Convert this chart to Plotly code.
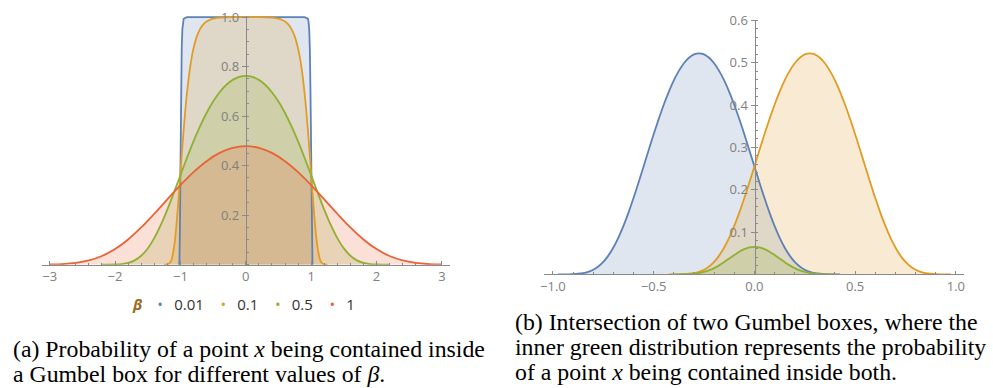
import plotly.graph_objects as go

# ---------------- data: left panel (probability of x in a Gumbel box) -------------
BETA_LABELS = ["0.01", "0.1", "0.5", "1"]

BLUE_L_X = [-1.03, -1.02, -1.015, -1.01, -1.005, -1.0, -0.995, -0.99, -0.98, -0.97, -0.96, -0.95, -0.9,
            0.0, 0.9, 0.95, 0.96, 0.97, 0.98, 0.99, 0.995, 1.0, 1.005, 1.01, 1.015, 1.02, 1.03]
BLUE_L_Y = [0.0, 0.0006, 0.0113, 0.0660, 0.1923, 0.3679, 0.5452, 0.6922, 0.8734, 0.9514, 0.9819, 0.9933, 1.0,
            1.0, 1.0, 0.9933, 0.9819, 0.9514, 0.8734, 0.6922, 0.5452, 0.3679, 0.1923, 0.0660, 0.0113, 0.0006, 0.0]

ORANGE_L_X = [-1.25, -1.2, -1.15, -1.1, -1.05, -1.0, -0.95, -0.9, -0.85, -0.8, -0.75, -0.7, -0.65, -0.6, -0.55,
              -0.5, -0.4, -0.3, -0.2, -0.1, 0.0, 0.1, 0.2, 0.3, 0.4, 0.5, 0.55, 0.6, 0.65, 0.7, 0.75, 0.8,
              0.85, 0.9, 0.95, 1.0, 1.05, 1.1, 1.15, 1.2, 1.25]
ORANGE_L_Y = [0.0, 0.0006, 0.0113, 0.0660, 0.1923, 0.3679, 0.5452, 0.6922, 0.8000, 0.8734, 0.9212, 0.9514,
              0.9703, 0.9819, 0.9890, 0.9933, 0.9975, 0.9991, 0.9997, 0.9999, 0.9999, 0.9999, 0.9997, 0.9991,
              0.9975, 0.9933, 0.9890, 0.9819, 0.9703, 0.9514, 0.9212, 0.8734, 0.8000, 0.6922, 0.5452, 0.3679,
              0.1923, 0.0660, 0.0113, 0.0006, 0.0]

GREEN_L_X = [-2.2, -2.1, -2.0, -1.9, -1.8, -1.7, -1.6, -1.5, -1.4, -1.3, -1.2, -1.1, -1.0, -0.9, -0.8, -0.7,
             -0.6, -0.5, -0.4, -0.3, -0.2, -0.1, 0.0, 0.1, 0.2, 0.3, 0.4, 0.5, 0.6, 0.7, 0.8, 0.9, 1.0, 1.1,
             1.2, 1.3, 1.4, 1.5, 1.6, 1.7, 1.8, 1.9, 2.0, 2.1, 2.2]
GREEN_L_Y = [0.0, 0.0001, 0.0006, 0.0024, 0.0070, 0.0173, 0.0359, 0.0655, 0.1071, 0.1601, 0.2222, 0.2904,
             0.3612, 0.4312, 0.4978, 0.5587, 0.6126, 0.6586, 0.6963, 0.7255, 0.7463, 0.7587, 0.7628, 0.7587,
             0.7463, 0.7255, 0.6963, 0.6586, 0.6126, 0.5587, 0.4978, 0.4312, 0.3612, 0.2904, 0.2222, 0.1601,
             0.1071, 0.0655, 0.0359, 0.0173, 0.0070, 0.0024, 0.0006, 0.0001, 0.0]

RED_L_X = [-3.0, -2.8, -2.6, -2.4, -2.2, -2.0, -1.8, -1.6, -1.4, -1.2, -1.0, -0.8, -0.6, -0.4, -0.2, 0.0,
           0.2, 0.4, 0.6, 0.8, 1.0, 1.2, 1.4, 1.6, 1.8, 2.0, 2.2, 2.4, 2.6, 2.8, 3.0]
RED_L_Y = [0.0006, 0.0023, 0.0069, 0.0168, 0.0347, 0.0628, 0.1016, 0.1501, 0.2055, 0.2639, 0.3213, 0.3738,
           0.4180, 0.4514, 0.4721, 0.4791, 0.4721, 0.4514, 0.4180, 0.3738, 0.3213, 0.2639, 0.2055, 0.1501,
           0.1016, 0.0628, 0.0347, 0.0168, 0.0069, 0.0023, 0.0006]

# ---------------- data: right panel (two Gumbel boxes and their intersection) -----
BLUE_R_X = [-0.975, -0.95, -0.925, -0.9, -0.875, -0.85, -0.825, -0.8, -0.775, -0.75, -0.725, -0.7, -0.675,
            -0.65, -0.625, -0.6, -0.575, -0.55, -0.525, -0.5, -0.475, -0.45, -0.425, -0.4, -0.375, -0.35,
            -0.325, -0.3, -0.275, -0.25, -0.225, -0.2, -0.175, -0.15, -0.125, -0.1, -0.075, -0.05, -0.025,
            0.0, 0.025, 0.05, 0.075, 0.1, 0.125, 0.15, 0.175, 0.2, 0.225, 0.25, 0.275, 0.3, 0.325, 0.35,
            0.375, 0.4, 0.425]
BLUE_R_Y = [0.0, 0.0001, 0.0002, 0.0006, 0.0015, 0.0031, 0.0061, 0.0111, 0.0187, 0.0296, 0.0444, 0.0635,
            0.0869, 0.1145, 0.1459, 0.1803, 0.2171, 0.2551, 0.2934, 0.3311, 0.3671, 0.4009, 0.4314, 0.4583,
            0.4808, 0.4988, 0.5118, 0.5198, 0.5224, 0.5198, 0.5118, 0.4988, 0.4808, 0.4583, 0.4314, 0.4009,
            0.3671, 0.3311, 0.2934, 0.2551, 0.2171, 0.1803, 0.1459, 0.1145, 0.0869, 0.0635, 0.0444, 0.0296,
            0.0187, 0.0111, 0.0061, 0.0031, 0.0015, 0.0006, 0.0002, 0.0001, 0.0]

ORANGE_R_X = [-0.425, -0.4, -0.375, -0.35, -0.325, -0.3, -0.275, -0.25, -0.225, -0.2, -0.175, -0.15, -0.125,
              -0.1, -0.075, -0.05, -0.025, 0.0, 0.025, 0.05, 0.075, 0.1, 0.125, 0.15, 0.175, 0.2, 0.225,
              0.25, 0.275, 0.3, 0.325, 0.35, 0.375, 0.4, 0.425, 0.45, 0.475, 0.5, 0.525, 0.55, 0.575, 0.6,
              0.625, 0.65, 0.675, 0.7, 0.725, 0.75, 0.775, 0.8, 0.825, 0.85, 0.875, 0.9, 0.925, 0.95, 0.975]
ORANGE_R_Y = [0.0, 0.0001, 0.0002, 0.0006, 0.0015, 0.0031, 0.0061, 0.0111, 0.0187, 0.0296, 0.0444, 0.0635,
              0.0869, 0.1145, 0.1459, 0.1803, 0.2171, 0.2551, 0.2934, 0.3311, 0.3671, 0.4009, 0.4314, 0.4583,
              0.4808, 0.4988, 0.5118, 0.5198, 0.5224, 0.5198, 0.5118, 0.4988, 0.4808, 0.4583, 0.4314, 0.4009,
              0.3671, 0.3311, 0.2934, 0.2551, 0.2171, 0.1803, 0.1459, 0.1145, 0.0869, 0.0635, 0.0444, 0.0296,
              0.0187, 0.0111, 0.0061, 0.0031, 0.0015, 0.0006, 0.0002, 0.0001, 0.0]

GREEN_R_X = [-0.4, -0.375, -0.35, -0.325, -0.3, -0.275, -0.25, -0.225, -0.2, -0.175, -0.15, -0.125, -0.1,
             -0.075, -0.05, -0.025, 0.0, 0.025, 0.05, 0.075, 0.1, 0.125, 0.15, 0.175, 0.2, 0.225, 0.25,
             0.275, 0.3, 0.325, 0.35, 0.375, 0.4]
GREEN_R_Y = [0.0, 0.0001, 0.0003, 0.0008, 0.0016, 0.0032, 0.0058, 0.0096, 0.0148, 0.0213, 0.0291, 0.0375,
             0.0459, 0.0536, 0.0597, 0.0637, 0.0651, 0.0637, 0.0597, 0.0536, 0.0459, 0.0375, 0.0291, 0.0213,
             0.0148, 0.0096, 0.0058, 0.0032, 0.0016, 0.0008, 0.0003, 0.0001, 0.0]

# ---------------- tick labels ----------------
XL_TICKS = [-3, -2, -1, 0, 1, 2, 3]
XL_TEXT = ["\u22123", "\u22122", "\u22121", "0", "1", "2", "3"]
YL_TICKS = [0.2, 0.4, 0.6, 0.8, 1.0]
YL_TEXT = ["0.2", "0.4", "0.6", "0.8", "1.0"]
XR_TICKS = [-1.0, -0.5, 0.0, 0.5, 1.0]
XR_TEXT = ["\u22121.0", "\u22120.5", "0.0", "0.5", "1.0"]
YR_TICKS = [0.1, 0.2, 0.3, 0.4, 0.5, 0.6]
YR_TEXT = ["0.1", "0.2", "0.3", "0.4", "0.5", "0.6"]

CAPTION_A = ["(a) Probability of a point <i>x</i> being contained inside",
             "a Gumbel box for different values of <i>\u03b2</i>."]
CAPTION_B = ["(b) Intersection of two Gumbel boxes, where the",
             "inner green distribution represents the probability",
             "of a point <i>x</i> being contained inside both."]

# ---------------- styles ----------------
COLORS = ["#5E81B5", "#E19C24", "#8FB032", "#EB6235"]
FILLS = ["rgba(94,129,181,0.2)", "rgba(225,156,36,0.2)", "rgba(143,176,50,0.2)", "rgba(235,98,53,0.2)"]
AX_COL = "#8a8a8a"
LBL_COL = "#808080"
TICK_FONT = dict(family="Open Sans", size=13, color=LBL_COL)
CAP_FONT = dict(family="Liberation Serif", size=23.8, color="black")

fig = go.Figure()

left = [(BLUE_L_X, BLUE_L_Y, "linear"), (ORANGE_L_X, ORANGE_L_Y, "spline"),
        (GREEN_L_X, GREEN_L_Y, "spline"), (RED_L_X, RED_L_Y, "spline")]
right = [(BLUE_R_X, BLUE_R_Y, "spline"), (ORANGE_R_X, ORANGE_R_Y, "spline"), (GREEN_R_X, GREEN_R_Y, "spline")]

for (xs, ys, shp), i in zip(left, range(4)):
    fig.add_trace(go.Scatter(x=xs, y=ys, mode="lines", line=dict(width=0, shape=shp, color=COLORS[i]),
                             fill="tozeroy", fillcolor=FILLS[i], xaxis="x", yaxis="y", hoverinfo="skip"))
for (xs, ys, shp), i in zip(right, range(3)):
    fig.add_trace(go.Scatter(x=xs, y=ys, mode="lines", line=dict(width=0, shape=shp, color=COLORS[i]),
                             fill="tozeroy", fillcolor=FILLS[i], xaxis="x2", yaxis="y2", hoverinfo="skip"))
for (xs, ys, shp), i in zip(left, range(4)):
    fig.add_trace(go.Scatter(x=xs, y=ys, mode="lines", line=dict(width=1.8, shape=shp, color=COLORS[i]),
                             xaxis="x", yaxis="y"))
for (xs, ys, shp), i in zip(right, range(3)):
    fig.add_trace(go.Scatter(x=xs, y=ys, mode="lines", line=dict(width=1.8, shape=shp, color=COLORS[i]),
                             xaxis="x2", yaxis="y2"))

common = dict(showline=True, linecolor=AX_COL, linewidth=1, showgrid=False, zeroline=False,
              tickcolor=AX_COL, tickfont=TICK_FONT, tickwidth=1)

fig.update_layout(
    width=993, height=388, margin=dict(l=0, r=0, t=0, b=0),
    paper_bgcolor="white", plot_bgcolor="rgba(0,0,0,0)", showlegend=False,
    xaxis=dict(domain=[0.03827, 0.45116], range=[-3.12, 3.12], anchor="y",
               tickmode="array", tickvals=XL_TICKS, ticktext=XL_TEXT, ticks="inside", ticklen=3.5,
               minor=dict(dtick=0.2, tick0=0, ticks="inside", ticklen=2, tickcolor=AX_COL), **common),
    yaxis=dict(domain=[0.3255, 0.98196], range=[0, 1.005], anchor="free", position=0.2447,
               tickmode="array", tickvals=YL_TICKS, ticktext=YL_TEXT, ticks="outside", ticklen=4,
               minor=dict(dtick=0.05, tick0=0, ticks="inside", ticklen=2, tickcolor=AX_COL), **common),
    xaxis2=dict(domain=[0.54683, 0.97180], range=[-1.043, 1.041], anchor="y2",
                tickmode="array", tickvals=XR_TICKS, ticktext=XR_TEXT, ticks="inside", ticklen=3.5,
                minor=dict(dtick=0.1, tick0=0, ticks="inside", ticklen=2, tickcolor=AX_COL), **common),
    yaxis2=dict(domain=[0.29974, 0.96985], range=[0, 0.6], anchor="free", position=0.75962,
                tickmode="array", tickvals=YR_TICKS, ticktext=YR_TEXT, ticks="outside", ticklen=4,
                minor=dict(dtick=0.02, tick0=0, ticks="inside", ticklen=2, tickcolor=AX_COL), **common),
)

# legend row for the left panel
legend_text = '<span style="color:#9c6b1f"><b><i>\u03b2</i></b></span>\u2003'
parts = []
for c, lab in zip(COLORS, BETA_LABELS):
    parts.append('<span style="color:%s">\u2022</span>\u2002\u2005%s' % (c, lab))
legend_text += "\u2003\u200a".join(parts)
fig.add_annotation(x=241 / 993, y=1 - 302 / 388, xref="paper", yref="paper", xanchor="center", yanchor="middle",
                   text=legend_text, showarrow=False, font=dict(family="Open Sans", size=15, color="#333333"))

for k, line in enumerate(CAPTION_A):
    fig.add_annotation(x=7 / 993, y=1 - (348 + 26 * k) / 388, xref="paper", yref="paper", xanchor="left",
                       yanchor="middle", align="left", text=line, showarrow=False, font=CAP_FONT)
for k, line in enumerate(CAPTION_B):
    fig.add_annotation(x=512 / 993, y=1 - (320 + 26 * k) / 388, xref="paper", yref="paper", xanchor="left",
                       yanchor="middle", align="left", text=line, showarrow=False, font=CAP_FONT)

fig.write_html("out.html")
